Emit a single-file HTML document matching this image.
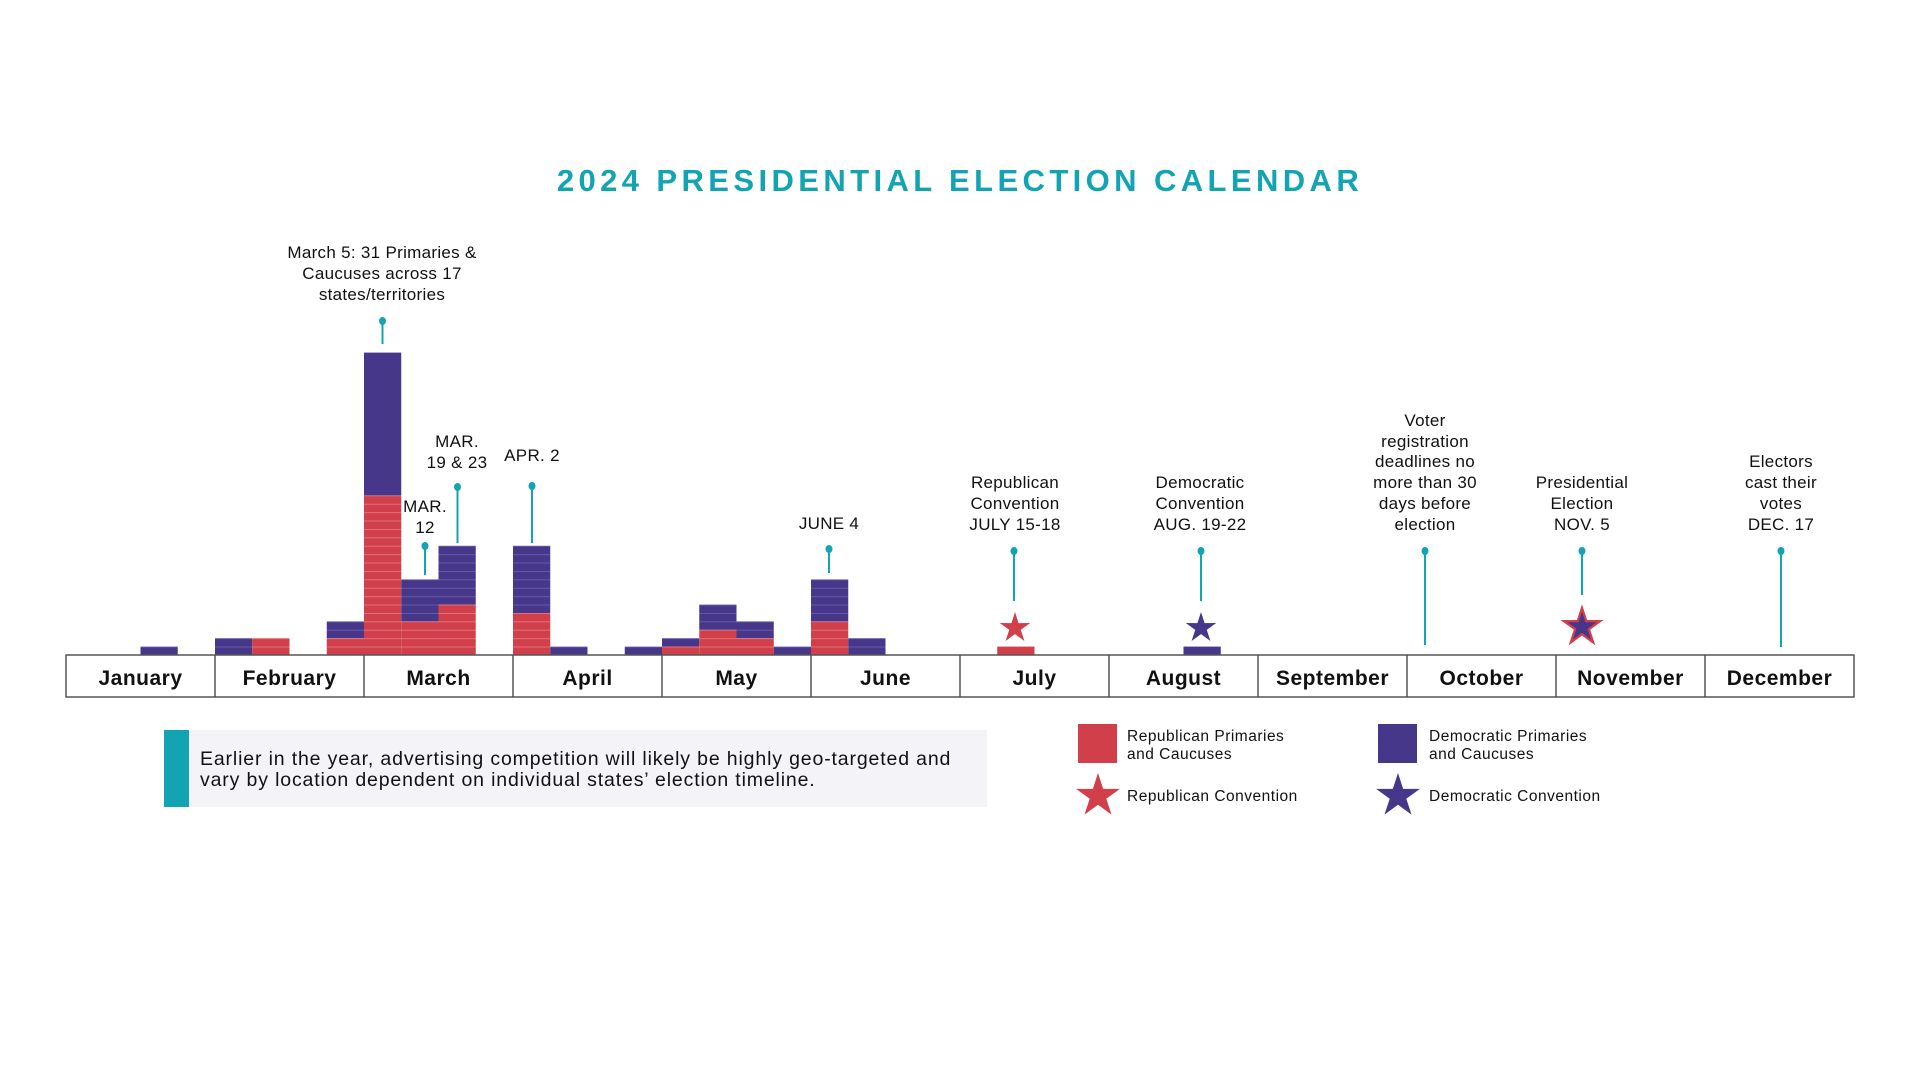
<!DOCTYPE html>
<html><head><meta charset="utf-8"><style>
html,body{margin:0;padding:0;background:#fff;}
svg{display:block;}
text{font-family:"Liberation Sans",sans-serif;}
</style></head><body>
<svg width="1920" height="1080" viewBox="0 0 1920 1080" xmlns="http://www.w3.org/2000/svg">
<defs>
<pattern id="pr" patternUnits="userSpaceOnUse" x="0" y="655" width="40" height="8.4"><rect width="40" height="8.4" fill="#d13f4a"/><rect width="40" height="0.8" fill="#e87a82"/></pattern>
<pattern id="pd" patternUnits="userSpaceOnUse" x="0" y="655" width="40" height="8.4"><rect width="40" height="8.4" fill="#47378a"/><rect width="40" height="0.8" fill="#6e60aa"/></pattern>
<polygon id="st" points="0,-1 0.2233,-0.3073 0.9511,-0.309 0.3614,0.1174 0.5878,0.809 0,0.38 -0.5878,0.809 -0.3614,0.1174 -0.9511,-0.309 -0.2233,-0.3073"/>
</defs>
<text x="960" y="191" text-anchor="middle" font-size="31" font-weight="bold" letter-spacing="4.4" fill="#13a4b4">2024 PRESIDENTIAL ELECTION CALENDAR</text>

<g>
<rect x="140.5" y="646.6" width="37.25" height="8.4" fill="url(#pd)"/>
<rect x="215" y="638.2" width="37.25" height="16.8" fill="url(#pd)"/>
<rect x="252.25" y="638.2" width="37.25" height="16.8" fill="url(#pr)"/>
<rect x="326.75" y="638.2" width="37.25" height="16.8" fill="url(#pr)"/>
<rect x="326.75" y="621.4" width="37.25" height="16.8" fill="url(#pd)"/>
<rect x="364" y="495.4" width="37.25" height="159.6" fill="url(#pr)"/>
<rect x="364" y="352.6" width="37.25" height="142.8" fill="#47378a"/>
<rect x="401.25" y="621.4" width="37.25" height="33.6" fill="url(#pr)"/>
<rect x="401.25" y="579.4" width="37.25" height="42" fill="url(#pd)"/>
<rect x="438.5" y="604.6" width="37.25" height="50.4" fill="url(#pr)"/>
<rect x="438.5" y="545.8" width="37.25" height="58.8" fill="url(#pd)"/>
<rect x="513" y="613" width="37.25" height="42" fill="url(#pr)"/>
<rect x="513" y="545.8" width="37.25" height="67.2" fill="url(#pd)"/>
<rect x="550.25" y="646.6" width="37.25" height="8.4" fill="url(#pd)"/>
<rect x="624.75" y="646.6" width="37.25" height="8.4" fill="url(#pd)"/>
<rect x="662" y="646.6" width="37.25" height="8.4" fill="url(#pr)"/>
<rect x="662" y="638.2" width="37.25" height="8.4" fill="url(#pd)"/>
<rect x="699.25" y="629.8" width="37.25" height="25.2" fill="url(#pr)"/>
<rect x="699.25" y="604.6" width="37.25" height="25.2" fill="url(#pd)"/>
<rect x="736.5" y="638.2" width="37.25" height="16.8" fill="url(#pr)"/>
<rect x="736.5" y="621.4" width="37.25" height="16.8" fill="url(#pd)"/>
<rect x="773.75" y="646.6" width="37.25" height="8.4" fill="url(#pd)"/>
<rect x="811" y="621.4" width="37.25" height="33.6" fill="url(#pr)"/>
<rect x="811" y="579.4" width="37.25" height="42" fill="url(#pd)"/>
<rect x="848.25" y="638.2" width="37.25" height="16.8" fill="url(#pd)"/>
<rect x="997.25" y="646.6" width="37.25" height="8.4" fill="#d13f4a"/>
<rect x="1183.5" y="646.6" width="37.25" height="8.4" fill="#47378a"/>
</g>

<g stroke="#13a4b4" stroke-width="2" fill="#13a4b4">
<line x1="382.5" y1="321" x2="382.5" y2="344"/><ellipse cx="382.5" cy="321" rx="3.5" ry="4" stroke="none"/>
<line x1="425" y1="546" x2="425" y2="575"/><ellipse cx="425" cy="546" rx="3.5" ry="4" stroke="none"/>
<line x1="457.5" y1="487" x2="457.5" y2="543"/><ellipse cx="457.5" cy="487" rx="3.5" ry="4" stroke="none"/>
<line x1="532" y1="486" x2="532" y2="543"/><ellipse cx="532" cy="486" rx="3.5" ry="4" stroke="none"/>
<line x1="829" y1="549" x2="829" y2="573"/><ellipse cx="829" cy="549" rx="3.5" ry="4" stroke="none"/>
<line x1="1014" y1="551" x2="1014" y2="601"/><ellipse cx="1014" cy="551" rx="3.5" ry="4" stroke="none"/>
<line x1="1201" y1="551" x2="1201" y2="601"/><ellipse cx="1201" cy="551" rx="3.5" ry="4" stroke="none"/>
<line x1="1425" y1="551" x2="1425" y2="645"/><ellipse cx="1425" cy="551" rx="3.5" ry="4" stroke="none"/>
<line x1="1582" y1="551" x2="1582" y2="595"/><ellipse cx="1582" cy="551" rx="3.5" ry="4" stroke="none"/>
<line x1="1781" y1="551" x2="1781" y2="647"/><ellipse cx="1781" cy="551" rx="3.5" ry="4" stroke="none"/>
</g>

<use href="#st" transform="translate(1015,628) scale(16)" fill="#d13f4a"/>
<use href="#st" transform="translate(1201,628) scale(16)" fill="#47378a"/>
<use href="#st" transform="translate(1582,627) scale(19)" fill="#47378a" stroke="#d13f4a" stroke-width="0.12"/>

<g font-size="17" fill="#111" text-anchor="middle" letter-spacing="0.3">
<text x="382" y="258">March 5: 31 Primaries &amp;</text>
<text x="382" y="279">Caucuses across 17</text>
<text x="382" y="300">states/territories</text>
<text x="425" y="512">MAR.</text><text x="425" y="533">12</text>
<text x="457" y="447">MAR.</text><text x="457" y="468">19 &amp; 23</text>
<text x="532" y="461">APR. 2</text>
<text x="829" y="529">JUNE 4</text>
<text x="1015" y="488">Republican</text><text x="1015" y="509">Convention</text><text x="1015" y="530">JULY 15-18</text>
<text x="1200" y="488">Democratic</text><text x="1200" y="509">Convention</text><text x="1200" y="530">AUG. 19-22</text>
<text x="1425" y="426">Voter</text><text x="1425" y="447">registration</text><text x="1425" y="467">deadlines no</text><text x="1425" y="488">more than 30</text><text x="1425" y="509">days before</text><text x="1425" y="530">election</text>
<text x="1582" y="488">Presidential</text><text x="1582" y="509">Election</text><text x="1582" y="530">NOV. 5</text>
<text x="1781" y="467">Electors</text><text x="1781" y="488">cast their</text><text x="1781" y="509">votes</text><text x="1781" y="530">DEC. 17</text>
</g>

<g stroke="#555" stroke-width="1.5" fill="none">
<rect x="66" y="655" width="1788" height="42"/>
<line x1="215" y1="655" x2="215" y2="697"/><line x1="364" y1="655" x2="364" y2="697"/>
<line x1="513" y1="655" x2="513" y2="697"/><line x1="662" y1="655" x2="662" y2="697"/>
<line x1="811" y1="655" x2="811" y2="697"/><line x1="960" y1="655" x2="960" y2="697"/>
<line x1="1109" y1="655" x2="1109" y2="697"/><line x1="1258" y1="655" x2="1258" y2="697"/>
<line x1="1407" y1="655" x2="1407" y2="697"/><line x1="1556" y1="655" x2="1556" y2="697"/>
<line x1="1705" y1="655" x2="1705" y2="697"/>
</g>
<g font-size="21" font-weight="bold" fill="#111" text-anchor="middle" letter-spacing="0.5">
<text x="140.5" y="685">January</text><text x="289.5" y="685">February</text><text x="438.5" y="685">March</text>
<text x="587.5" y="685">April</text><text x="736.5" y="685">May</text><text x="885.5" y="685">June</text>
<text x="1034.5" y="685">July</text><text x="1183.5" y="685">August</text><text x="1332.5" y="685">September</text>
<text x="1481.5" y="685">October</text><text x="1630.5" y="685">November</text><text x="1779.5" y="685">December</text>
</g>

<rect x="164" y="730" width="823" height="77" fill="#f4f4f8"/>
<rect x="164" y="730" width="25" height="77" fill="#13a4b4"/>
<g font-size="19.5" fill="#111" letter-spacing="0.85">
<text x="200" y="765">Earlier in the year, advertising competition will likely be highly geo-targeted and</text>
<text x="200" y="786">vary by location dependent on individual states’ election timeline.</text>
</g>

<rect x="1078" y="724" width="39" height="39" fill="#d13f4a"/>
<rect x="1378" y="724" width="39" height="39" fill="#47378a"/>
<use href="#st" transform="translate(1098,796) scale(23)" fill="#d13f4a"/>
<use href="#st" transform="translate(1398,796) scale(23)" fill="#47378a"/>
<g font-size="15.5" fill="#111" letter-spacing="0.5">
<text x="1127" y="741">Republican Primaries</text><text x="1127" y="759">and Caucuses</text>
<text x="1429" y="741">Democratic Primaries</text><text x="1429" y="759">and Caucuses</text>
<text x="1127" y="801">Republican Convention</text>
<text x="1429" y="801">Democratic Convention</text>
</g>
</svg>
</body></html>
